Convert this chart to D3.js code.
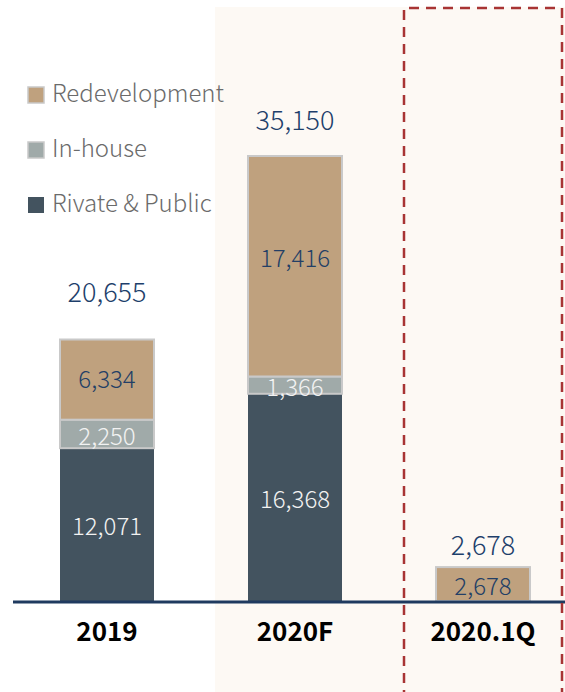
<!DOCTYPE html>
<meta charset="utf-8">
<style>
  body { margin: 0; background: #fff; }
  svg text { font-family: "Noto Sans CJK KR", "Noto Sans", sans-serif; }
  svg text.light { font-family: "Noto Sans CJK KR Light", "Noto Sans CJK KR DemiLight", "Noto Sans CJK KR", sans-serif; font-weight: 300; }
</style>
<body>
<svg width="565" height="692"></svg>
<script src="https://d3js.org/d3.v7.min.js"></script>
<script>
// data
var categories = ["2019", "2020F", "2020.1Q"];
var series = ["Rivate & Public", "In-house", "Redevelopment"];
var privatePublic = [12071, 16368, 0];
var inHouse = [2250, 1366, 0];
var redevelopment = [6334, 17416, 2678];
var totals = [20655, 35150, 2678];

var colors = { "Rivate & Public": "#43535f", "In-house": "#a0aaa9", "Redevelopment": "#bfa17e" };
var labelColors = { "Rivate & Public": "#f2f2f2", "In-house": "#f2f2f2", "Redevelopment": "#233f66" };

var svg = d3.select("svg");
var baseY = 601;

// build rows for the stack
var rows = categories.map(function (c, i) {
  return { cat: c, "Rivate & Public": privatePublic[i], "In-house": inHouse[i], "Redevelopment": redevelopment[i], total: totals[i] };
});

var x = d3.scaleBand().domain(categories).range([13, 577]).paddingInner(0.5).paddingOuter(0.25);
var y = d3.scaleLinear().domain([0, 35150]).range([baseY, 156]);

// highlighted background for forecast
svg.append("rect")
  .attr("x", 215).attr("y", 7)
  .attr("width", 350).attr("height", 692)
  .attr("fill", "#fdf9f4");

var stack = d3.stack().keys(series)(rows);

var layers = svg.selectAll("g.layer")
  .data(stack)
  .enter().append("g")
  .attr("class", "layer");

layers.selectAll("rect")
  .data(function (d) { return d.map(function (p) { return { key: d.key, p: p }; }); })
  .enter().filter(function (d) { return d.p[1] - d.p[0] > 0; })
  .append("rect")
  .attr("x", function (d) { return x(d.p.data.cat); })
  .attr("width", x.bandwidth())
  .attr("y", function (d) { return y(d.p[1]); })
  .attr("height", function (d) { return y(d.p[0]) - y(d.p[1]); })
  .attr("fill", function (d) { return colors[d.key]; })
  .attr("stroke", function (d) { return d.key === "Rivate & Public" ? "none" : "#c9c9c9"; })
  .attr("stroke-width", 2);

layers.selectAll("text")
  .data(function (d) { return d.map(function (p) { return { key: d.key, p: p }; }); })
  .enter().filter(function (d) { return d.p[1] - d.p[0] > 0; })
  .append("text")
  .attr("class", "light")
  .attr("x", function (d) { return x(d.p.data.cat) + x.bandwidth() / 2; })
  .attr("y", function (d) {
    var h = y(d.p[0]) - y(d.p[1]);
    // the tallest segment has its label a bit above centre
    return (y(d.p[0]) + y(d.p[1])) / 2 - (h > 215 ? 8 : 0) + (h < 40 ? 2 : 0) + (h > 140 && h < 215 ? 2 : 0);
  })
  .attr("dy", "0.36em")
  .attr("text-anchor", "middle")
  .attr("font-size", 24)
  .attr("fill", function (d) { return labelColors[d.key]; })
  .text(function (d) { return d3.format(",")(d.p[1] - d.p[0]); });

// totals above bars
var totalGap = [38, 26, 12];
svg.selectAll("text.total")
  .data(rows)
  .enter().append("text")
  .attr("class", "total light")
  .attr("x", function (d) { return x(d.cat) + x.bandwidth() / 2; })
  .attr("y", function (d, i) { return y(d.total) - totalGap[i]; })
  .attr("text-anchor", "middle")
  .attr("font-size", 27)
  .style("font-weight", 400)
  .attr("fill", "#1e3f6b")
  .text(function (d) { return d3.format(",")(d.total); });

// baseline axis
var xAxis = svg.append("g")
  .attr("transform", "translate(0," + baseY + ")")
  .call(d3.axisBottom(x).tickSize(0).tickPadding(22));
xAxis.select(".domain").remove();
xAxis.append("line")
  .attr("x1", 13).attr("x2", 565)
  .attr("y1", 1).attr("y2", 1)
  .attr("stroke", "#1f3a5f").attr("stroke-width", 3);
xAxis.selectAll(".tick text")
  .attr("font-family", "Noto Sans CJK KR, Noto Sans, sans-serif")
  .attr("font-size", 26)
  .attr("font-weight", 600)
  .attr("fill", "#000");

// dashed box for quarterly
svg.append("path")
  .attr("d", "M404,700 L404,8 L562,8 L562,700")
  .attr("fill", "none")
  .attr("stroke", "#a83434")
  .attr("stroke-width", 2.5)
  .attr("stroke-dasharray", "10,7");

// legend
var legend = svg.selectAll("g.legend")
  .data(series.slice().reverse())
  .enter().append("g")
  .attr("class", "legend")
  .attr("transform", function (d, i) { return "translate(28," + (87 + i * 55) + ")"; });

legend.append("rect")
  .attr("width", 16).attr("height", 16)
  .attr("fill", function (d) { return colors[d]; })
  .attr("stroke", function (d) { return d === "Rivate & Public" ? "none" : "#c9c9c9"; })
  .attr("stroke-width", 1.5);

legend.append("text")
  .attr("class", "light")
  .attr("x", 24).attr("y", 15)
  .attr("font-size", 24)
  .attr("fill", "#6b6b6b")
  .text(function (d) { return d; });
</script>
</body>
